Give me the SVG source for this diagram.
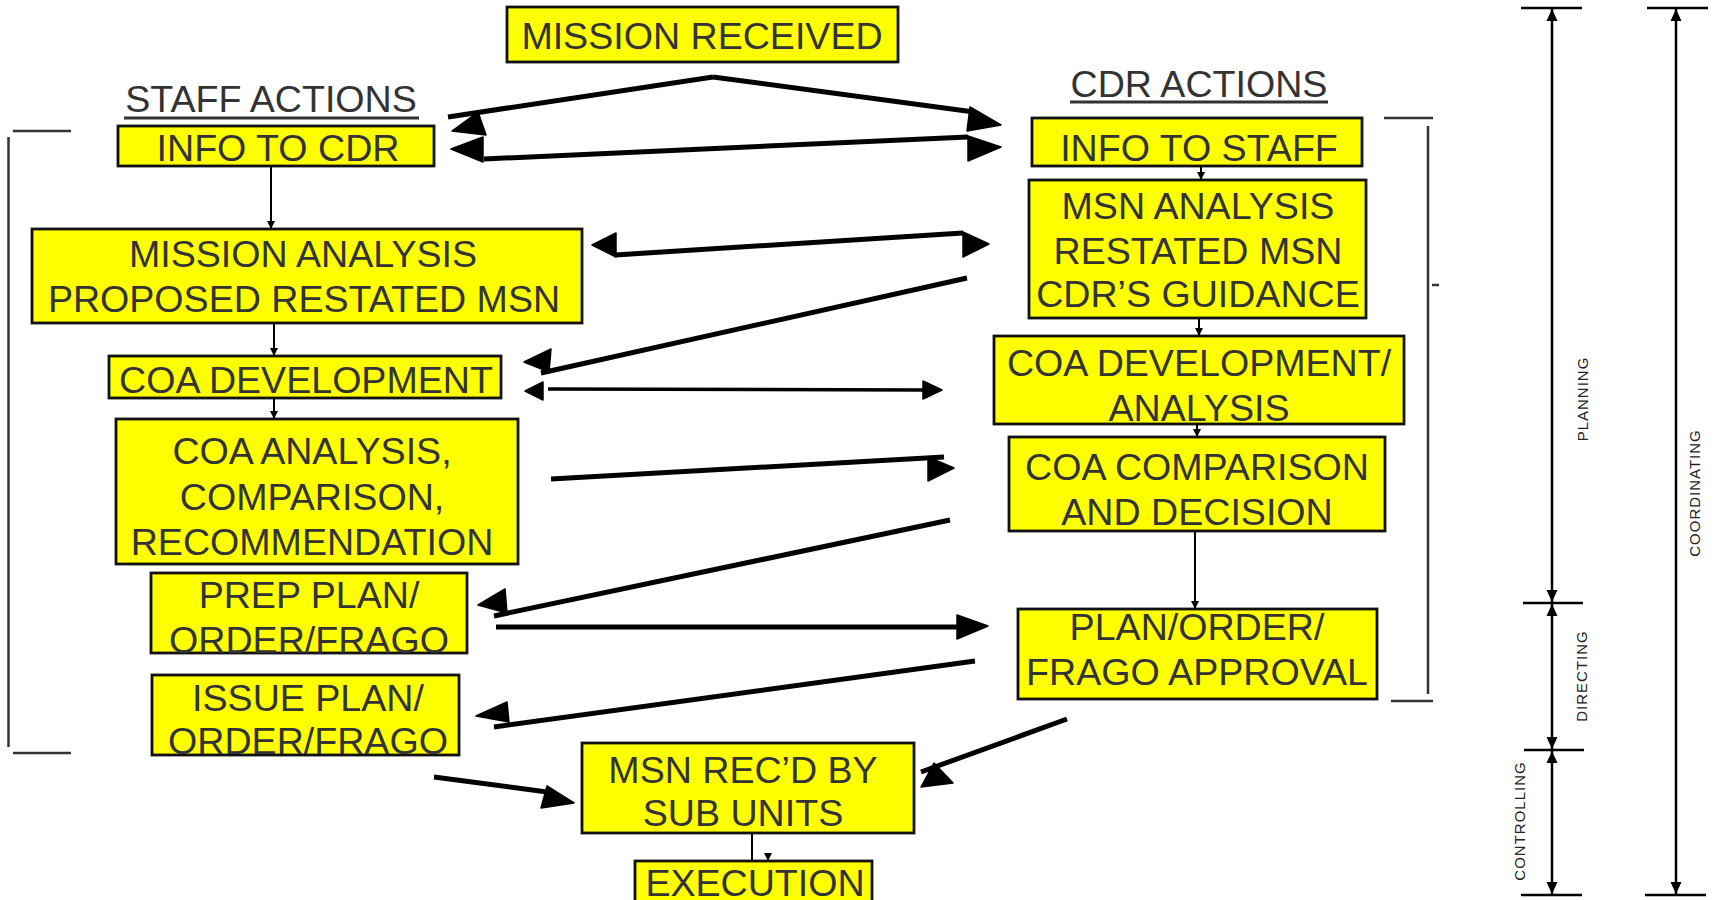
<svg xmlns="http://www.w3.org/2000/svg" width="1719" height="900" viewBox="0 0 1719 900">
<style>
.box{fill:#FFFF00;stroke:#111;stroke-width:2.8}
.t{font-family:"Liberation Sans",Arial,sans-serif;font-size:37.6px;fill:#333;text-anchor:middle}
.hd{font-family:"Liberation Sans",Arial,sans-serif;font-size:37.6px;fill:#333;text-anchor:middle}
.ul{stroke:#333;stroke-width:3}
.br{stroke:#333;stroke-width:2.5;fill:none}
.thick{stroke:#000;stroke-width:5;fill:none}
.mid{stroke:#000;stroke-width:3.5;fill:none}
.thin{stroke:#000;stroke-width:2;fill:none}
.head{fill:#000;stroke:#000;stroke-width:1.5;stroke-linejoin:round}
.dim{stroke:#000;stroke-width:2.5;fill:none}
.dt{font-family:"Liberation Sans",Arial,sans-serif;font-size:15px;letter-spacing:1px;fill:#222;text-anchor:middle}
</style>
<defs>
<marker id="sm" markerWidth="8" markerHeight="8" refX="7" refY="4" orient="auto" markerUnits="userSpaceOnUse"><path d="M0,0 L8,4 L0,8 Z" fill="#000"/></marker>
<marker id="dimA" markerWidth="12" markerHeight="12" refX="12" refY="6" orient="auto-start-reverse" markerUnits="userSpaceOnUse"><path d="M0,0.5 L12,6 L0,11.5 Z" fill="#000"/></marker>
</defs>

<!-- headers -->
<g id="staff-actions">
<text class="hd" x="271" y="112">STAFF ACTIONS</text>
<line class="ul" x1="124" y1="118" x2="419" y2="118"/>
</g>
<g id="cdr-actions">
<text class="hd" x="1199" y="97">CDR ACTIONS</text>
<line class="ul" x1="1070" y1="102" x2="1328" y2="102"/>
</g>

<!-- nodes -->
<g id="mission-received">
<rect class="box" x="507" y="7" width="391" height="55"/>
<text class="t" x="702" y="49">MISSION RECEIVED</text>
</g>
<g id="info-to-cdr">
<rect class="box" x="118" y="126" width="316" height="40"/>
<text class="t" x="278" y="161">INFO TO CDR</text>
</g>
<g id="mission-analysis">
<rect class="box" x="32" y="229" width="550" height="94"/>
<text class="t" x="303" y="267">MISSION ANALYSIS</text>
<text class="t" x="304" y="312">PROPOSED RESTATED MSN</text>
</g>
<g id="coa-development">
<rect class="box" x="109" y="356" width="392" height="42"/>
<text class="t" x="306" y="393">COA DEVELOPMENT</text>
</g>
<g id="coa-analysis">
<rect class="box" x="116" y="419" width="402" height="145"/>
<text class="t" x="312" y="464">COA ANALYSIS,</text>
<text class="t" x="312" y="510">COMPARISON,</text>
<text class="t" x="312" y="555">RECOMMENDATION</text>
</g>
<g id="prep-plan">
<rect class="box" x="151" y="573" width="316" height="80"/>
<text class="t" x="309" y="608">PREP PLAN/</text>
<text class="t" x="309" y="653">ORDER/FRAGO</text>
</g>
<g id="issue-plan">
<rect class="box" x="152" y="675" width="307" height="80"/>
<text class="t" x="308" y="711">ISSUE PLAN/</text>
<text class="t" x="308" y="754">ORDER/FRAGO</text>
</g>
<g id="info-to-staff">
<rect class="box" x="1032" y="118" width="330" height="48"/>
<text class="t" x="1199" y="161">INFO TO STAFF</text>
</g>
<g id="msn-analysis">
<rect class="box" x="1029" y="180" width="337" height="138"/>
<text class="t" x="1198" y="219">MSN ANALYSIS</text>
<text class="t" x="1198" y="264">RESTATED MSN</text>
<text class="t" x="1198" y="307">CDR’S GUIDANCE</text>
</g>
<g id="coa-dev-analysis">
<rect class="box" x="994" y="336" width="410" height="88"/>
<text class="t" x="1199" y="376">COA DEVELOPMENT/</text>
<text class="t" x="1199" y="421">ANALYSIS</text>
</g>
<g id="coa-comparison">
<rect class="box" x="1009" y="437" width="376" height="94"/>
<text class="t" x="1197" y="480">COA COMPARISON</text>
<text class="t" x="1197" y="525">AND DECISION</text>
</g>
<g id="plan-approval">
<rect class="box" x="1018" y="609" width="359" height="90"/>
<text class="t" x="1197" y="640">PLAN/ORDER/</text>
<text class="t" x="1197" y="685">FRAGO APPROVAL</text>
</g>
<g id="msn-recd">
<rect class="box" x="582" y="743" width="332" height="90"/>
<text class="t" x="743" y="783">MSN REC’D BY</text>
<text class="t" x="743" y="826">SUB UNITS</text>
</g>
<g id="execution">
<rect class="box" x="635" y="861" width="237" height="60"/>
<text class="t" x="755" y="896">EXECUTION</text>
</g>

<!-- connectors -->
<g id="connectors">
<line class="thick" x1="713" y1="77" x2="448" y2="117"/>
<polygon class="head" points="452,131 478,112 486,135"/>
<line class="thick" x1="713" y1="77" x2="974" y2="112"/>
<polygon class="head" points="1001,125 970,107 967,131"/>

<line class="thick" x1="484" y1="159" x2="968" y2="137"/>
<polygon class="head" points="451,149 483,137 483,162"/>
<polygon class="head" points="1001,147 968,136 968,161"/>

<line class="thick" x1="615" y1="255" x2="963" y2="233"/>
<polygon class="head" points="592,245 616,233 616,257"/>
<polygon class="head" points="989,244 963,232 963,257"/>

<line class="thick" x1="967" y1="278" x2="541" y2="373"/>
<polygon class="head" points="524,362 551,349 549,372"/>

<line class="mid" x1="548" y1="389" x2="923" y2="390"/>
<polygon class="head" points="525,391 543,382 543,400"/>
<polygon class="head" points="942,390 923,381 923,399"/>

<line class="thick" x1="551" y1="479" x2="944" y2="457"/>
<polygon class="head" points="954,468 928,457 928,481"/>

<line class="thick" x1="950" y1="520" x2="494" y2="616"/>
<polygon class="head" points="478,605 505,589 507,613"/>

<line class="thick" x1="496" y1="627" x2="957" y2="627"/>
<polygon class="head" points="988,626 957,615 957,639"/>

<line class="thick" x1="975" y1="661" x2="494" y2="727"/>
<polygon class="head" points="476,716 507,702 509,722"/>

<line class="thick" x1="434" y1="777" x2="547" y2="792"/>
<polygon class="head" points="574,803 547,786 541,808"/>

<line class="thick" x1="1067" y1="719" x2="921" y2="772"/>
<polygon class="head" points="921,787 934,763 953,783"/>

<line class="thin" x1="271" y1="166" x2="271" y2="228" marker-end="url(#sm)"/>
<line class="thin" x1="274" y1="323" x2="274" y2="355" marker-end="url(#sm)"/>
<line class="thin" x1="274" y1="398" x2="274" y2="418" marker-end="url(#sm)"/>
<line class="thin" x1="1201" y1="166" x2="1201" y2="179" marker-end="url(#sm)"/>
<line class="thin" x1="1199" y1="318" x2="1199" y2="335" marker-end="url(#sm)"/>
<line class="thin" x1="1197" y1="424" x2="1197" y2="436" marker-end="url(#sm)"/>
<line class="thin" x1="1195" y1="531" x2="1195" y2="608" marker-end="url(#sm)"/>
<line class="thin" x1="752" y1="833" x2="752" y2="860"/>
<polygon points="764,853 772,853 768,861" fill="#000"/>
</g>

<!-- brackets -->
<g id="staff-bracket">
<line class="br" x1="13" y1="131" x2="71" y2="131"/>
<line class="br" x1="8.5" y1="137" x2="8.5" y2="747"/>
<line class="br" x1="13" y1="753" x2="71" y2="753"/>
</g>
<g id="cdr-bracket">
<line class="br" x1="1384" y1="118" x2="1433" y2="118"/>
<line class="br" x1="1428" y1="126" x2="1428" y2="694"/>
<line class="br" x1="1391" y1="701" x2="1433" y2="701"/>
<line class="br" x1="1432" y1="285" x2="1439" y2="285"/>
</g>

<!-- dimension scale -->
<g id="scale">
<line class="dim" x1="1521" y1="8" x2="1582" y2="8"/>
<line class="dim" x1="1523" y1="603" x2="1583" y2="603"/>
<line class="dim" x1="1524" y1="750" x2="1584" y2="750"/>
<line class="dim" x1="1521" y1="895" x2="1582" y2="895"/>
<line class="dim" x1="1647" y1="8" x2="1708" y2="8"/>
<line class="dim" x1="1645" y1="895" x2="1706" y2="895"/>
<line class="dim" x1="1552" y1="9" x2="1552" y2="602" marker-start="url(#dimA)" marker-end="url(#dimA)"/>
<line class="dim" x1="1552" y1="604" x2="1552" y2="749" marker-start="url(#dimA)" marker-end="url(#dimA)"/>
<line class="dim" x1="1552" y1="751" x2="1552" y2="894" marker-start="url(#dimA)" marker-end="url(#dimA)"/>
<line class="dim" x1="1676" y1="9" x2="1676" y2="894" marker-start="url(#dimA)" marker-end="url(#dimA)"/>
<text class="dt" transform="translate(1588,399) rotate(-90)">PLANNING</text>
<text class="dt" transform="translate(1587,676) rotate(-90)">DIRECTING</text>
<text class="dt" transform="translate(1525,821) rotate(-90)">CONTROLLING</text>
<text class="dt" transform="translate(1700,493) rotate(-90)">COORDINATING</text>
</g>
</svg>
